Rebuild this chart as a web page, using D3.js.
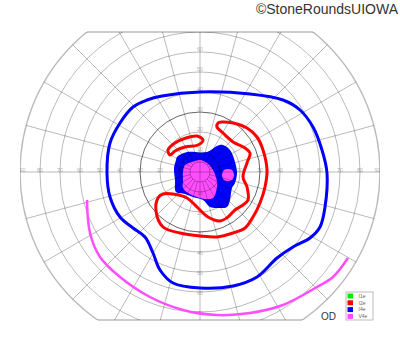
<!DOCTYPE html>
<html>
<head>
<meta charset="utf-8">
<script src="https://cdn.jsdelivr.net/npm/d3@7"></script>
<style>
  body { margin: 0; background: #fff; }
  svg { display: block; font-family: "Liberation Sans", Arial, sans-serif; }
</style>
</head>
<body>
<svg id="chart" width="400" height="352"></svg>
<script>
// rings / meridians of the perimetry chart (degrees)
const ringDegrees = [5, 10, 20, 30, 40, 50, 60, 70, 80, 90];
const meridianDegrees = [0, 15, 30, 45, 60, 75, 90, 105, 120, 135, 150, 165,
  180, 195, 210, 225, 240, 255, 270, 285, 300, 315, 330, 345];
const horizLabels = [10, 20, 30, 40, 50, 60, 70, 80, 90];
const upLabels = [10, 20, 30, 40, 50, 60, 70];
const downLabels = [10, 20, 30, 40, 50, 60, 70];
const fieldTop = 70;     // chart cut off above
const fieldBottom = -74; // and below

const legendLabels = ["I1e", "I2e", "I4e", "V4e"];

// isopters, [x deg, y deg] (x temporal right, y up)
const i4eLine = [[-19, 38], [0, 40], [25, 39], [41.5, 36], [50, 31], [56.5, 22.5],
  [61, 11], [63.5, -0.5], [62.5, -17.5], [60, -27.5], [55, -33], [46.5, -37.5],
  [38.5, -43], [28.5, -52.5], [16.5, -57], [0, -58], [-13.5, -55.5], [-20, -49],
  [-23.5, -40.5], [-27.5, -32.5], [-33.5, -28], [-40, -22.5], [-45, -12.5],
  [-46.5, -0.5], [-45, 14.5], [-40, 24.5], [-33.5, 32.5], [-26.5, 36]];

const i4eArea = [[-11.5, 7.5], [-6.5, 10], [3.5, 10], [8.5, 13], [11.5, 13.5],
  [15, 11], [17.5, 5], [18.5, -0.5], [17.5, -5.5], [16, -8], [15, -14],
  [13.5, -17.5], [9, -18], [5, -17.5], [1.5, -14], [-3.5, -12.5], [-7.5, -11],
  [-12, -10], [-12.5, -4], [-13, 2], [-12, 6]];

const i2eUpper = [[-16, 11], [-12.5, 14.5], [-7, 17], [-1.5, 18], [1.5, 16],
  [-1, 13.5], [-7.5, 12.5], [-12.5, 10.5], [-15, 8.5]];

const i2eMain = [[9, 24.5], [11, 25], [16.5, 24.5], [23.5, 22], [28.5, 17.5],
  [31.5, 11], [33.5, 1], [32.5, -7.5], [30, -15.5], [26.5, -22.5], [22.5, -28],
  [16.5, -30.5], [8.5, -32.5], [0, -32], [-10, -30.5], [-18.5, -27.5],
  [-22, -19.5], [-21, -13], [-18.5, -11], [-13.5, -11], [-6.5, -13],
  [-1.5, -17.5], [4, -22.5], [10, -24.5], [14, -22.5], [17.5, -19],
  [21.5, -16.5], [24, -14], [23.5, -7.5], [21.5, -2.5], [23.5, 4.5],
  [25, 9.5], [22.5, 12], [16.5, 15], [11.5, 19.5], [8.5, 22.5]];

const v4eCentral = [[-7.5, 3.5], [-4, 5], [0, 6], [3.5, 4.5], [6.5, 1],
  [8.5, -5], [8, -10], [6.5, -13], [2.5, -13.5], [-1.5, -12.5], [-6, -10.5],
  [-8.5, -8], [-8.5, -4], [-8.5, 0]];

const v4eSpot = [[11, -1.5], [12, 1], [14, 1.5], [16, 1], [17, -1.5],
  [16, -4], [14, -4.5], [12, -4]];

const v4eArc = [[-56.5, -14], [-55, -30.5], [-50, -42.5], [-40, -52.5],
  [-25, -62.5], [-8.5, -69], [8.5, -71.5], [25, -70.5], [41.5, -66.5],
  [58.5, -57.5], [66.5, -52.5], [74, -43]];

const colors = { I1e: "#00ee00", I2e: "#ff0000", I4e: "#0000ff", V4e: "#ff4dff" };

const svg = d3.select("#chart");
const cx = 200, cy = 172;

const r = d3.scaleLinear().domain([0, 90]).range([0, 180]);
const x = d3.scaleLinear().domain([-90, 90]).range([cx - r(90), cx + r(90)]);
const y = d3.scaleLinear().domain([-90, 90]).range([cy + r(90), cy - r(90)]);

const yTop = y(fieldTop), yBot = y(fieldBottom);

svg.append("clipPath").attr("id", "field")
  .append("rect")
  .attr("x", x(-90)).attr("y", yTop)
  .attr("width", x(90) - x(-90)).attr("height", yBot - yTop);

const closed = d3.line().x(d => x(d[0])).y(d => y(d[1])).curve(d3.curveCatmullRomClosed.alpha(0.5));
const open = d3.line().x(d => x(d[0])).y(d => y(d[1])).curve(d3.curveCatmullRom.alpha(0.5));

const plot = svg.append("g").attr("clip-path", "url(#field)");

// filled areas first
plot.append("path").attr("d", closed(i4eArea)).attr("fill", colors.I4e);
plot.append("path").attr("d", closed(v4eCentral)).attr("fill", colors.V4e);
plot.append("path").attr("d", closed(v4eSpot)).attr("fill", colors.V4e);

// grid on top, see-through
const grid = plot.append("g").attr("fill", "none").attr("stroke", "#000");

grid.selectAll("circle.ring")
  .data(ringDegrees)
  .enter()
  .append("circle")
  .attr("class", "ring")
  .attr("cx", cx).attr("cy", cy)
  .attr("r", d => r(d))
  .attr("stroke-opacity", d => (d === 30 ? 0.6 : 0.27))
  .attr("stroke-width", d => (d === 90 ? 1.4 : 1));

grid.selectAll("line.meridian")
  .data(meridianDegrees)
  .enter()
  .append("line")
  .attr("class", "meridian")
  .attr("x1", d => cx + r(d % 90 === 0 ? 0 : 5) * Math.cos(d * Math.PI / 180))
  .attr("y1", d => cy - r(d % 90 === 0 ? 0 : 5) * Math.sin(d * Math.PI / 180))
  .attr("x2", d => cx + r(90) * Math.cos(d * Math.PI / 180))
  .attr("y2", d => cy - r(90) * Math.sin(d * Math.PI / 180))
  .attr("stroke-opacity", 0.27);

// top / bottom cut lines
[fieldTop, fieldBottom].forEach(v => {
  const half = Math.sqrt(r(90) ** 2 - (y(v) - cy) ** 2);
  svg.append("line")
    .attr("x1", cx - half).attr("x2", cx + half)
    .attr("y1", y(v)).attr("y2", y(v))
    .attr("stroke", "#000").attr("stroke-opacity", 0.27).attr("stroke-width", 1.4);
});

// degree labels
const lab = plot.append("g")
  .attr("font-size", 5.5)
  .attr("fill", "#000").attr("fill-opacity", 0.35)
  .attr("text-anchor", "middle")
  .attr("dominant-baseline", "middle");

horizLabels.forEach(d => {
  const off = d === 90 ? 2.5 : 0;
  lab.append("text").attr("x", x(-d) + off).attr("y", cy - 1).text(d);
  lab.append("text").attr("x", x(d) - off).attr("y", cy - 1).text(d);
});
upLabels.forEach(d => {
  lab.append("text").attr("x", cx).attr("y", y(d) - 2).text(d);
});
downLabels.forEach(d => {
  lab.append("text").attr("x", cx).attr("y", y(-d) + 2).text(d);
});

// isopter lines
plot.append("path").attr("d", closed(i4eLine))
  .attr("fill", "none").attr("stroke", colors.I4e).attr("stroke-width", 3);
plot.append("path").attr("d", closed(i2eUpper))
  .attr("fill", "none").attr("stroke", colors.I2e).attr("stroke-width", 3);
plot.append("path").attr("d", closed(i2eMain))
  .attr("fill", "none").attr("stroke", colors.I2e).attr("stroke-width", 3);
plot.append("path").attr("d", open(v4eArc))
  .attr("fill", "none").attr("stroke", colors.V4e).attr("stroke-width", 2.5);

// legend
const legend = svg.append("g").attr("transform", "translate(346,292)");
legend.append("rect")
  .attr("width", 27).attr("height", 28)
  .attr("fill", "#fff").attr("stroke", "#aaa").attr("stroke-width", 0.8);
const item = legend.selectAll("g.item")
  .data(legendLabels)
  .enter()
  .append("g")
  .attr("class", "item")
  .attr("transform", (d, i) => `translate(1.5,${1.5 + i * 6.8})`);
item.append("rect")
  .attr("width", 5.5).attr("height", 5)
  .attr("fill", d => colors[d]);
item.append("text")
  .attr("x", 11).attr("y", 4.2)
  .attr("font-size", 5)
  .attr("fill", "#666")
  .text(d => d);

svg.append("text")
  .attr("x", 321).attr("y", 320)
  .attr("font-size", 10)
  .attr("fill", "#333")
  .text("OD");

svg.append("text")
  .attr("x", 398).attr("y", 14)
  .attr("text-anchor", "end")
  .attr("font-size", 14)
  .attr("fill", "#333")
  .text("©StoneRoundsUIOWA");
</script>
</body>
</html>
